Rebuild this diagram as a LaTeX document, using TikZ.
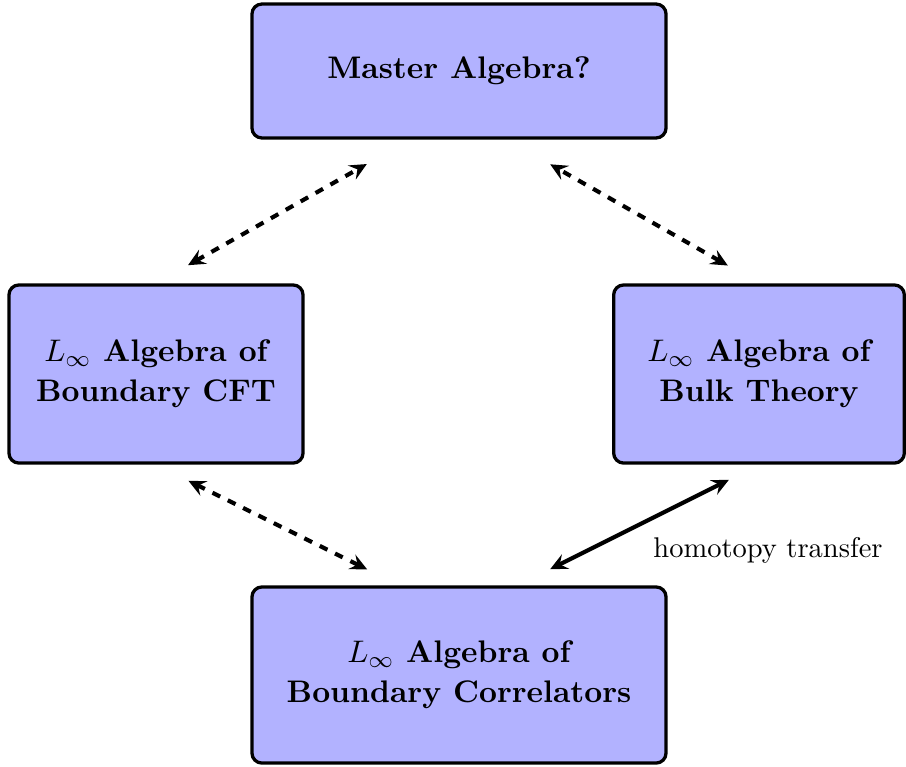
\documentclass[tikz,border=0pt]{standalone}
\usetikzlibrary{arrows.meta}
\begin{document}
\begin{tikzpicture}[x=0.3509pt,y=-0.3509pt,
  algbox/.style={draw=black, line width=1.15pt, fill=blue!30, rounded corners=3.5pt,
    align=center, inner sep=0pt, font=\fontsize{10.95}{14}\selectfont\bfseries},
  tipshape/.style={},
  dasharrow/.style={line width=1.45pt, dashed, {Stealth[length=6pt,width=5.6pt,inset=2.2pt]}-{Stealth[length=6pt,width=5.6pt,inset=2.2pt]}},
  solidarrow/.style={line width=1.45pt, {Stealth[length=6pt,width=5.6pt,inset=2.2pt]}-{Stealth[length=6pt,width=5.6pt,inset=2.2pt]}},
  arrowlabel/.style={inner sep=0pt, font=\fontsize{10}{12}\selectfont}]
\useasboundingbox (0,0) rectangle (906,766);
\node[algbox, minimum width=145.3pt, minimum height=47pt] (T) at (459,71) {Master Algebra?};
\node[algbox, minimum width=103.2pt, minimum height=62.5pt] (L) at (156,374) {$L_\infty$ Algebra of\\Boundary CFT};
\node[algbox, minimum width=102pt, minimum height=62.5pt] (R) at (759,374) {$L_\infty$ Algebra of\\Bulk Theory};
\node[algbox, minimum width=145.3pt, minimum height=61.8pt] (B) at (459,675) {$L_\infty$ Algebra of\\Boundary Correlators};
\draw[dasharrow, shorten <=12.9pt, shorten >=17.4pt] (L.north) -- ([xshift=-17.2pt]T.south);
\draw[dasharrow, shorten <=12.6pt, shorten >=17.5pt] (R.north) -- ([xshift=16.8pt]T.south);
\draw[dasharrow, shorten <=12.7pt, shorten >=12.5pt] (L.south) -- ([xshift=-21pt]B.north);
\draw[solidarrow, shorten <=11.8pt, shorten >=12.6pt] (R.south) -- ([xshift=20.7pt]B.north);
\node[arrowlabel] (lab) at (768,550) {homotopy transfer};
\end{tikzpicture}
\end{document}
